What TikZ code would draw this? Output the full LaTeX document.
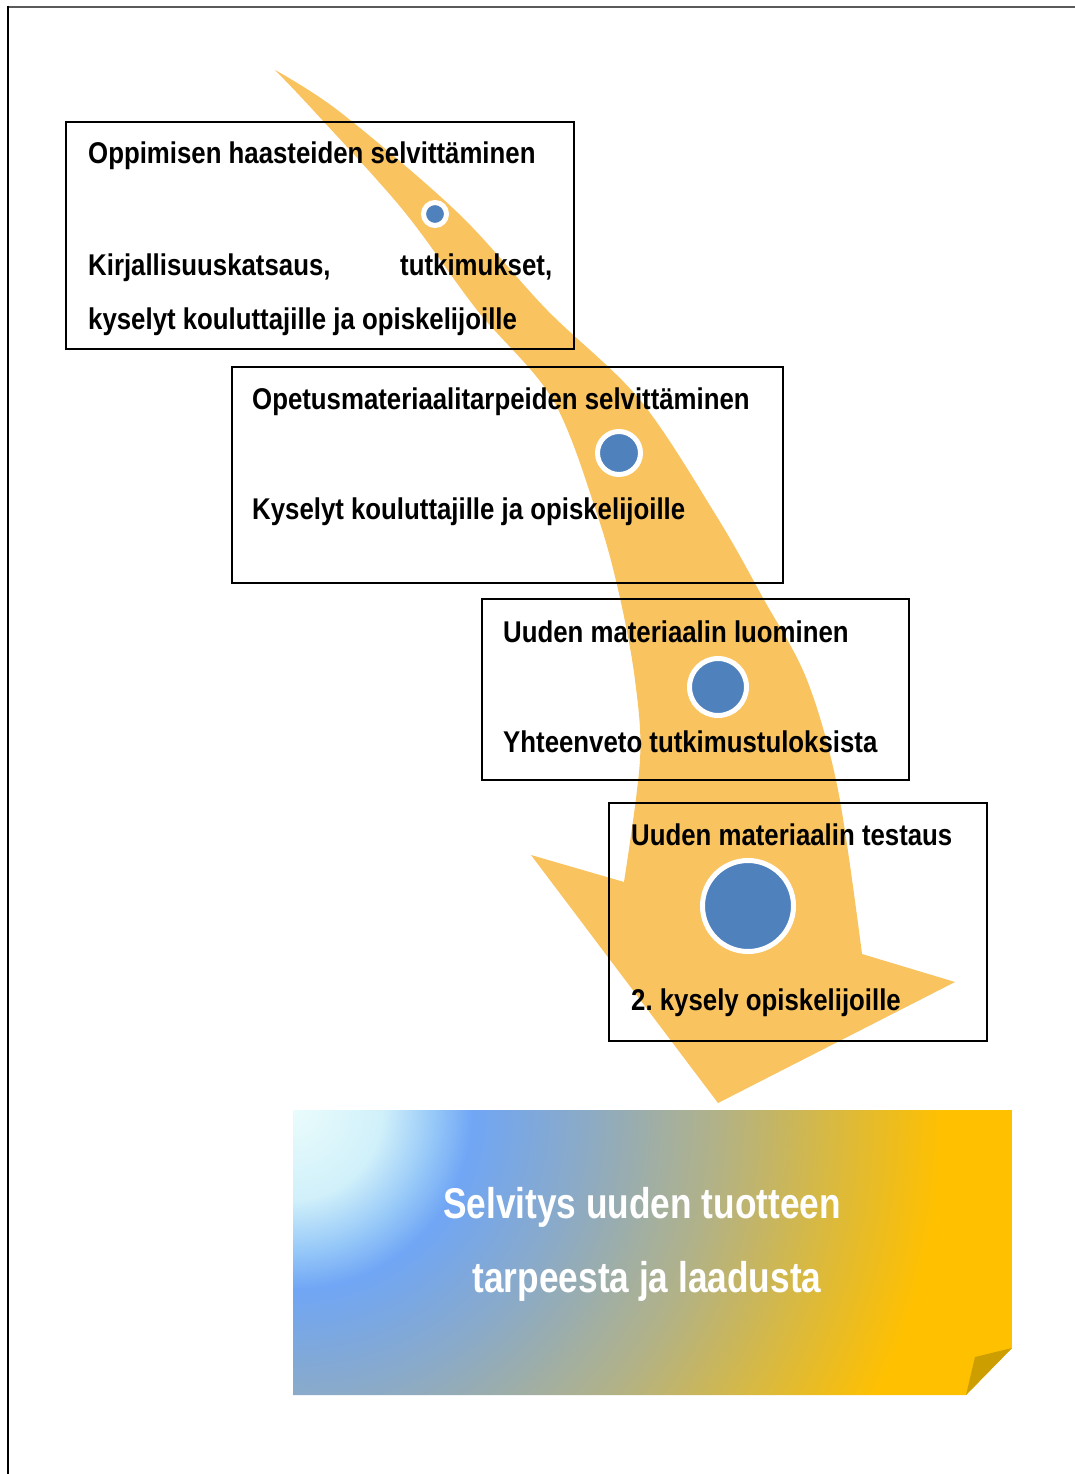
\documentclass[tikz,border=0pt]{standalone}
\usepackage{fontspec}
\newfontfamily\boxfont{Liberation Sans}[FakeStretch=0.86]
\newfontfamily\bannerfont{Liberation Sans}[FakeStretch=0.82]

\definecolor{arrowgold}{RGB}{249,195,95}
\definecolor{dotblue}{RGB}{79,129,189}
\definecolor{framegray}{RGB}{90,90,90}
\definecolor{curlgold}{RGB}{205,158,0}
\definecolor{bgA}{RGB}{234,252,252}
\definecolor{bgB}{RGB}{208,240,250}
\definecolor{bgC}{RGB}{150,200,248}
\definecolor{bgD}{RGB}{112,166,245}
\definecolor{bgE}{RGB}{138,170,200}
\definecolor{bgF}{RGB}{178,178,135}
\definecolor{bgG}{RGB}{212,184,72}
\definecolor{bgH}{RGB}{255,192,0}

% radial glow of the result banner; 25bp corresponds to the 800pt radius
\pgfdeclareradialshading{bannerglow}{\pgfpoint{0bp}{0bp}}{%
  color(0bp)=(bgA); color(2.8bp)=(bgB); color(4.4bp)=(bgC);
  color(5.6bp)=(bgD); color(9bp)=(bgE); color(13.3bp)=(bgF);
  color(16.5bp)=(bgG); color(20.3bp)=(bgH); color(50bp)=(bgH)}

\tikzset{
  stagebox/.style={draw=black, line width=1.5pt, anchor=north west,
    inner sep=0pt, outer sep=0pt},
  stagetext/.style={anchor=base west, inner sep=0pt,
    font=\boxfont\bfseries\fontsize{30}{36}\selectfont},
  stagedot/.style={circle, fill=dotblue, draw=white, line width=5pt,
    inner sep=0pt},
  bannertext/.style={anchor=base, inner sep=0pt, text=white,
    font=\bannerfont\bfseries\fontsize{43}{50}\selectfont},
}

\begin{document}
\frenchspacing
\begin{tikzpicture}[x=1pt,y=-1pt]
\useasboundingbox (0,0) rectangle (1075,1474);
\fill[white] (0,0) rectangle (1075,1474);

% page frame
\draw[framegray, line width=1.4pt] (7,7) -- (1075,7);
\draw[black, line width=2.2pt] (8,6) -- (8,1474);

% result banner with curled corner
\begin{scope}
  \clip (293,1110) -- (1012,1110) -- (1012,1348) -- (966,1395)
        -- (293,1395) -- cycle;
  \shade[shading=bannerglow] (293,1110) circle (800pt);
\end{scope}
\fill[curlgold] (1012,1348) -- (975,1357) -- (966,1395) -- cycle;
\node[bannertext] (title1) at (642,1218) {Selvitys uuden tuotteen};
\node[bannertext] (title2) at (647,1292) {tarpeesta ja laadusta};

% curved process arrow
\fill[arrowgold]
  plot[smooth, tension=0.55] coordinates {(275,70) (340,112) (457,212)
      (547,310) (640,400) (717,517) (763,598) (807,680) (838,790) (862,954)}
  -- (955,982) -- (718,1103) -- (531,855)
  -- plot[smooth, tension=0.55] coordinates {(624,882) (640,760) (635,680)
      (620,598) (598,517) (553,400) (477,310) (403,210) (313,110) (275,70)}
  -- cycle;

% stage frames
\node[stagebox, minimum width=508pt, minimum height=227pt] (box1) at (66,122) {};
\node[stagebox, minimum width=551pt, minimum height=216pt] (box2) at (232,367) {};
\node[stagebox, minimum width=427pt, minimum height=181pt] (box3) at (482,599) {};
\node[stagebox, minimum width=378pt, minimum height=238pt] (box4) at (609,803) {};

% stage markers on the arrow
\node[stagedot, minimum size=23pt] (dot1) at (435,214) {};
\node[stagedot, minimum size=43pt] (dot2) at (619,453) {};
\node[stagedot, minimum size=57pt] (dot3) at (718,687) {};
\node[stagedot, minimum size=91pt] (dot4) at (748,906) {};

% stage texts
\node[stagetext] (s1a) at (88,164) {Oppimisen haasteiden selvittäminen};
\node[stagetext] (s1b) at (88,275) {\makebox[464pt]{Kirjallisuuskatsaus,\hfill tutkimukset,}};
\node[stagetext] (s1c) at (88,329) {kyselyt kouluttajille ja opiskelijoille};

\node[stagetext] (s2a) at (252,409) {Opetusmateriaalitarpeiden selvittäminen};
\node[stagetext] (s2b) at (252,519) {Kyselyt kouluttajille ja opiskelijoille};

\node[stagetext] (s3a) at (503,642) {Uuden materiaalin luominen};
\node[stagetext] (s3b) at (503,752) {Yhteenveto tutkimustuloksista};

\node[stagetext] (s4a) at (631,845) {Uuden materiaalin testaus};
\node[stagetext] (s4b) at (631,1010) {2.\ kysely opiskelijoille};
\end{tikzpicture}
\end{document}
